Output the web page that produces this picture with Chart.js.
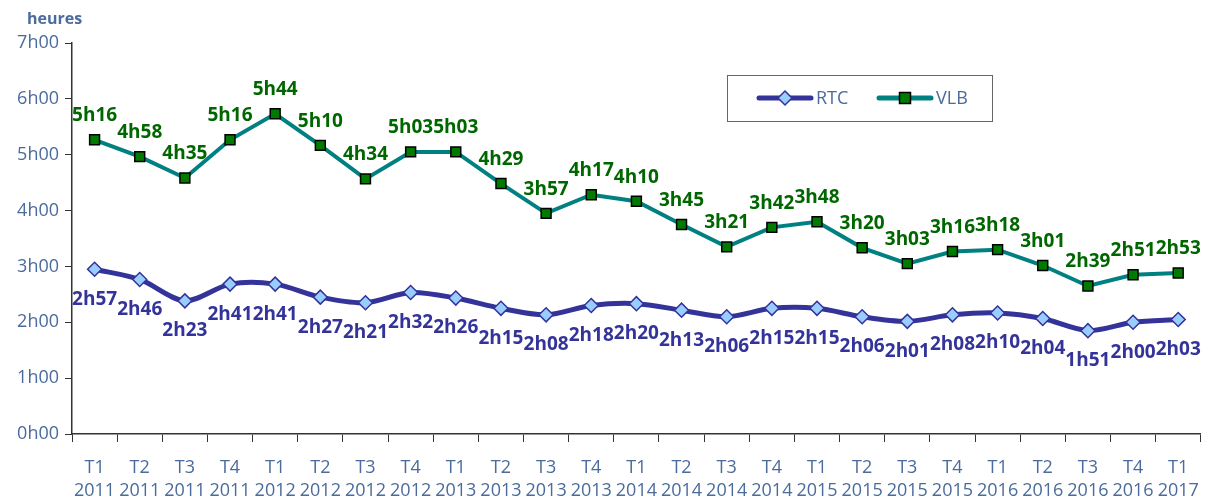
<!DOCTYPE html>
<html>
<head>
<meta charset="utf-8">
<script src="https://cdn.jsdelivr.net/npm/chart.js@4"></script>
<style>
  html,body{margin:0;padding:0;background:#fff;}
  #wrap{width:1213px;height:501px;position:relative;}
</style>
</head>
<body>
<div id="wrap"><canvas id="chart"></canvas></div>
<script>
// quarters T1 2011 .. T1 2017
const quarters = ['T1','T2','T3','T4','T1','T2','T3','T4','T1','T2','T3','T4','T1','T2','T3','T4','T1','T2','T3','T4','T1','T2','T3','T4','T1'];
const years = ['2011','2011','2011','2011','2012','2012','2012','2012','2013','2013','2013','2013','2014','2014','2014','2014','2015','2015','2015','2015','2016','2016','2016','2016','2017'];
// durations as "XhYY" strings, converted to minutes
const rtcLabels = ['2h57','2h46','2h23','2h41','2h41','2h27','2h21','2h32','2h26','2h15','2h08','2h18','2h20','2h13','2h06','2h15','2h15','2h06','2h01','2h08','2h10','2h04','1h51','2h00','2h03'];
const vlbLabels = ['5h16','4h58','4h35','5h16','5h44','5h10','4h34','5h03','5h03','4h29','3h57','4h17','4h10','3h45','3h21','3h42','3h48','3h20','3h03','3h16','3h18','3h01','2h39','2h51','2h53'];

function toMin(s){ const p = s.split('h'); return parseInt(p[0])*60 + parseInt(p[1]); }
const rtc = rtcLabels.map(toMin);
const vlb = vlbLabels.map(toMin);

const TICK_COLOR = '#4a6b9c';
const FONT = '"Open Sans", "Liberation Sans", sans-serif';

// value labels above (VLB) and below (RTC) the points
const valueLabels = {
  id: 'valueLabels',
  afterDatasetsDraw(chart){
    const ctx = chart.ctx;
    ctx.save();
    ctx.font = 'bold 19px ' + FONT;
    ctx.textAlign = 'center';
    ctx.textBaseline = 'middle';
    chart.data.datasets.forEach((ds, i)=>{
      const meta = chart.getDatasetMeta(i);
      meta.data.forEach((pt, j)=>{
        ctx.fillStyle = ds.labelColor;
        ctx.fillText(ds.labels[j], pt.x, pt.y + ds.labelOffset);
      });
    });
    ctx.restore();
  }
};

// "heures" title + legend box
const extras = {
  id: 'extras',
  afterDraw(chart){
    const ctx = chart.ctx;
    ctx.save();
    ctx.font = 'bold 16px ' + FONT;
    ctx.fillStyle = TICK_COLOR;
    ctx.textBaseline = 'middle';
    ctx.fillText('heures', 27, 19);

    // legend
    ctx.fillStyle = '#fff';
    ctx.fillRect(727, 75, 265, 46);
    ctx.strokeStyle = '#666';
    ctx.lineWidth = 1;
    ctx.strokeRect(727.5, 75.5, 265, 46);
    const items = [
      {x: 759, ds: chart.data.datasets[0], text: 'RTC'},
      {x: 879, ds: chart.data.datasets[1], text: 'VLB'}
    ];
    items.forEach(it=>{
      const y = 98;
      ctx.strokeStyle = it.ds.borderColor;
      ctx.lineWidth = 5;
      ctx.lineCap = 'round';
      ctx.beginPath(); ctx.moveTo(it.x, y); ctx.lineTo(it.x + 52, y); ctx.stroke();
      const cx = it.x + 26;
      ctx.fillStyle = it.ds.pointBackgroundColor;
      ctx.strokeStyle = it.ds.pointBorderColor;
      ctx.lineWidth = 1.5;
      ctx.beginPath();
      if(it.ds.pointStyle === 'rectRot'){
        ctx.moveTo(cx, y-7); ctx.lineTo(cx+7, y); ctx.lineTo(cx, y+7); ctx.lineTo(cx-7, y); ctx.closePath();
      } else {
        ctx.rect(cx-5.5, y-5.5, 11, 11);
      }
      ctx.fill(); ctx.stroke();
      ctx.fillStyle = TICK_COLOR;
      ctx.font = '18px ' + FONT;
      ctx.textBaseline = 'middle';
      ctx.fillText(it.text, it.x + 57, y + 1);
    });
    ctx.restore();
  }
};

new Chart(document.getElementById('chart'), {
  type: 'line',
  data: {
    labels: quarters.map((q, i)=> [q, years[i]]),
    datasets: [
      {
        label: 'RTC', data: rtc, labels: rtcLabels,
        borderColor: '#333399', borderWidth: 5, tension: 0.3,
        pointStyle: 'rectRot', pointRadius: 7, pointHoverRadius: 7,
        pointBackgroundColor: '#99ccff', pointBorderColor: '#333399', pointBorderWidth: 1.5,
        labelColor: '#333399', labelOffset: 30
      },
      {
        label: 'VLB', data: vlb, labels: vlbLabels,
        borderColor: '#008080', borderWidth: 4, tension: 0,
        pointStyle: 'rect', pointRadius: 7, pointHoverRadius: 7,
        pointBackgroundColor: '#007a00', pointBorderColor: '#000', pointBorderWidth: 1.5,
        labelColor: '#006600', labelOffset: -24
      }
    ]
  },
  options: {
    responsive: true, maintainAspectRatio: false, animation: false,
    layout: { padding: { top: 43, right: 10, left: 0, bottom: 0 } },
    plugins: { legend: { display: false }, tooltip: { enabled: false } },
    scales: {
      x: {
        offset: true,
        grid: { offset: true, drawOnChartArea: false, color: '#333', tickLength: 8, tickColor: '#333' },
        border: { color: '#333', width: 1.5 },
        ticks: { color: TICK_COLOR, font: { family: FONT, size: 18, lineHeight: 1.3 }, maxRotation: 0, autoSkip: false, padding: 14 },
        afterFit(s){ s.height = 67; }
      },
      y: {
        min: 0, max: 420,
        grid: { drawOnChartArea: false, color: '#333', tickLength: 7, tickColor: '#333' },
        border: { color: '#333', width: 1.5 },
        ticks: { stepSize: 60, color: TICK_COLOR, font: { family: FONT, size: 18 }, padding: 6,
          callback: v => (v/60) + 'h00' },
        afterFit(s){ s.width = 72; }
      }
    }
  },
  plugins: [valueLabels, extras]
});
</script>
</body>
</html>
